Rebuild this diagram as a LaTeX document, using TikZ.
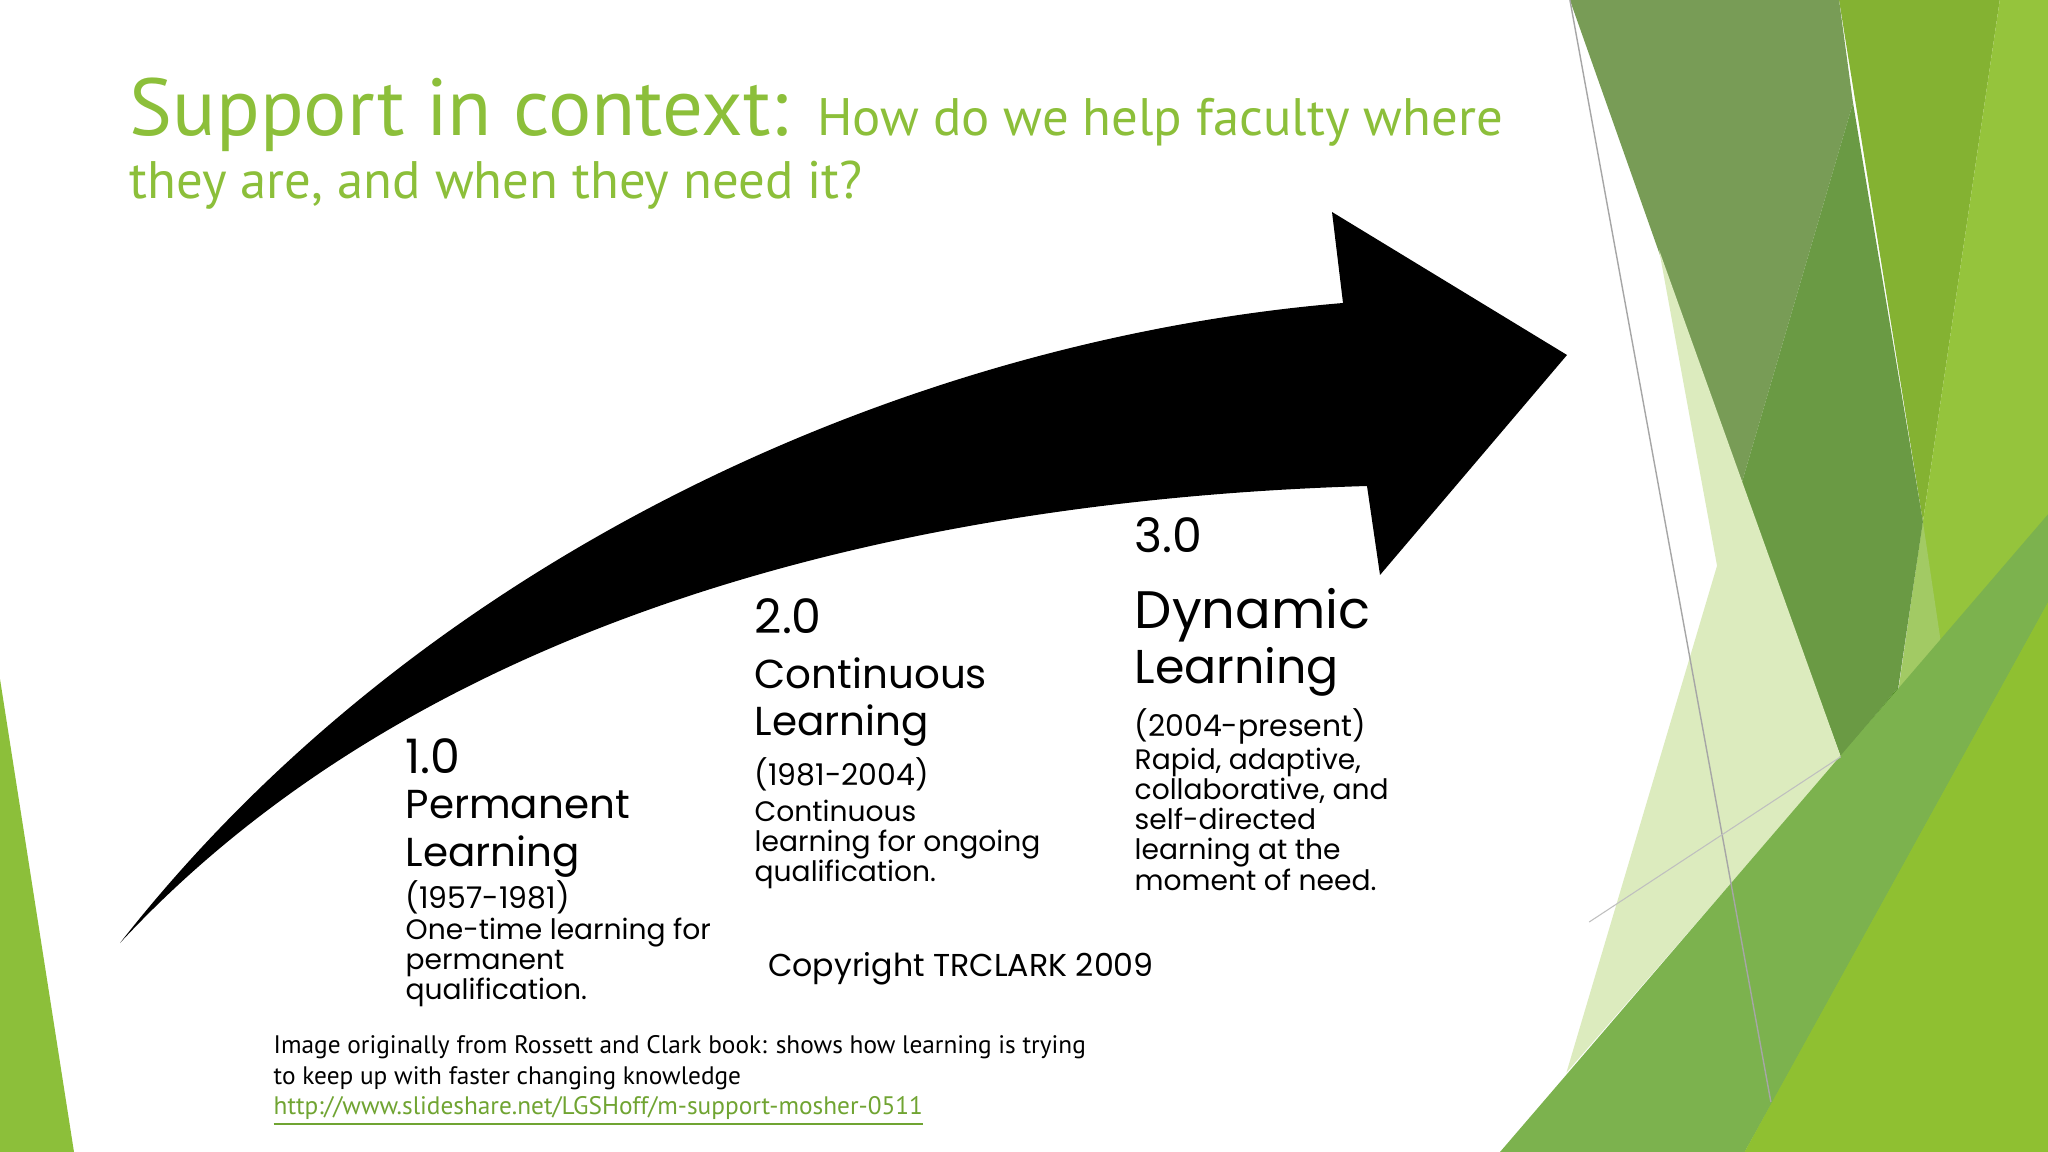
\documentclass[tikz,border=0pt]{standalone}
\usepackage{fontspec}
\setmainfont{PT Sans}
\newfontfamily\geo{Poppins}
\begin{document}
\begin{tikzpicture}[x=0.01cm,y=-0.01cm,
  head/.style={anchor=north west,inner sep=0pt,font=\geo\fontsize{11.5}{13.5}\selectfont,align=left},
  big/.style={anchor=north west,inner sep=0pt,font=\geo\fontsize{13.5}{15.5}\selectfont,align=left},
  yrs/.style={anchor=north west,inner sep=0pt,font=\geo\fontsize{8.5}{10}\selectfont},
  small/.style={anchor=north west,inner sep=0pt,font=\geo\fontsize{8}{8.6}\selectfont,align=left},
  captext/.style={anchor=base west,inner sep=0pt,font=\fontsize{7.2}{8}\selectfont}]
\definecolor{tgreen}{HTML}{8CBF3A}
\useasboundingbox (0,0) rectangle (2048,1152);
\fill[white] (0,0) rectangle (2048,1152);
% right decoration
\begin{scope}[shift={(1500,0)},xscale=0.3495,yscale=0.7347]
\fill[fill={rgb,255:red,132;green,178;blue,50}] (970,0)--(1430,0)--(1210,710)--cycle;
\fill[fill={rgb,255:red,149;green,196;blue,60}] (1430,0)--(1568,0)--(1568,1568)--(700,1568)--(1040,1270)--(1210,710)--cycle;
\fill[fill={rgb,255:red,162;green,202;blue,100}] (1210,710)--(1310,1030)--(1040,1270)--cycle;
\fill[fill={rgb,255:red,120;green,156;blue,86}] (200,0)--(970,0)--(1010,140)--(690,660)--cycle;
\fill[fill={rgb,255:red,106;green,154;blue,68}] (690,660)--(1010,140)--(1210,710)--(1140,935)--(975,1030)--cycle;
\fill[fill={rgb,255:red,80;green,139;blue,37}] (975,1030)--(1140,935)--(1075,1160)--cycle;
\fill[fill={rgb,255:red,220;green,235;blue,190}] (455,340)--(975,1030)--(190,1460)--(621,770)--cycle;
\fill[fill={rgb,255:red,124;green,178;blue,78}] (0,1568)--(1568,700)--(1568,820)--(700,1568)--cycle;
\fill[fill={rgb,255:red,143;green,192;blue,49}] (700,1568)--(1568,820)--(1568,1568)--cycle;
\draw[gray!70,line width=0.4pt] (200,0)--(775,1500);
\draw[gray!50,line width=0.3pt] (255,1255)--(975,1030);
\end{scope}
\fill[tgreen] (0,679)--(74,1152)--(0,1152)--cycle;
% arrow
\fill[black] (120,943) .. controls (420,560) and (900,340) .. (1343,303)
  -- (1332,212) -- (1567,355) -- (1380,575) -- (1367,486)
  .. controls (900,500) and (420,620) .. cycle;
% title
\node[anchor=base west,inner sep=0pt,text=tgreen] (t1) at (129,136)
  {\fontsize{23}{26}\selectfont Support in context: \fontsize{15}{18}\selectfont How do we help faculty where};
\node[anchor=base west,inner sep=0pt,text=tgreen] (t2) at (129,199)
  {\fontsize{15}{18}\selectfont they are, and when they need it?};
% block 1
\node[big] (a1) at (405,738) {1.0};
\node[head] (a2) at (405,790) {Permanent\\Learning};
\node[yrs] (a3) at (405,880) {(1957-1981)};
\node[small] (a4) at (405,917) {One-time learning for\\permanent\\qualification.};
% block 2
\node[big] (b1) at (754,598) {2.0};
\node[head] (b2) at (754,657) {Continuous\\Learning};
\node[yrs] (b3) at (754,757) {(1981-2004)};
\node[small] (b4) at (754,799) {Continuous\\learning for ongoing\\qualification.};
% block 3
\node[big] (c1) at (1134,517) {3.0};
\node[big] (c2) at (1134,588) {\fontsize{15}{17.5}\selectfont Dynamic\\Learning};
\node[yrs] (c3) at (1134,708) {(2004-present)};
\node[small] (c4) at (1134,747) {Rapid, adaptive,\\collaborative, and\\self-directed\\learning at the\\moment of need.};
\node[anchor=base,inner sep=0pt,font=\geo\fontsize{9}{10}\selectfont] (cp) at (961,976) {Copyright TRCLARK 2009};
% caption
\node[captext] (d1) at (273,1053) {Image originally from Rossett and Clark book: shows how learning is trying};
\node[captext] (d2) at (273,1084) {to keep up with faster changing knowledge};
\node[captext,text={rgb,255:red,112;green,164;blue,50}] (d3) at (273,1114) {\underline{http://www.slideshare.net/LGSHoff/m-support-mosher-0511}};
\end{tikzpicture}
\end{document}
